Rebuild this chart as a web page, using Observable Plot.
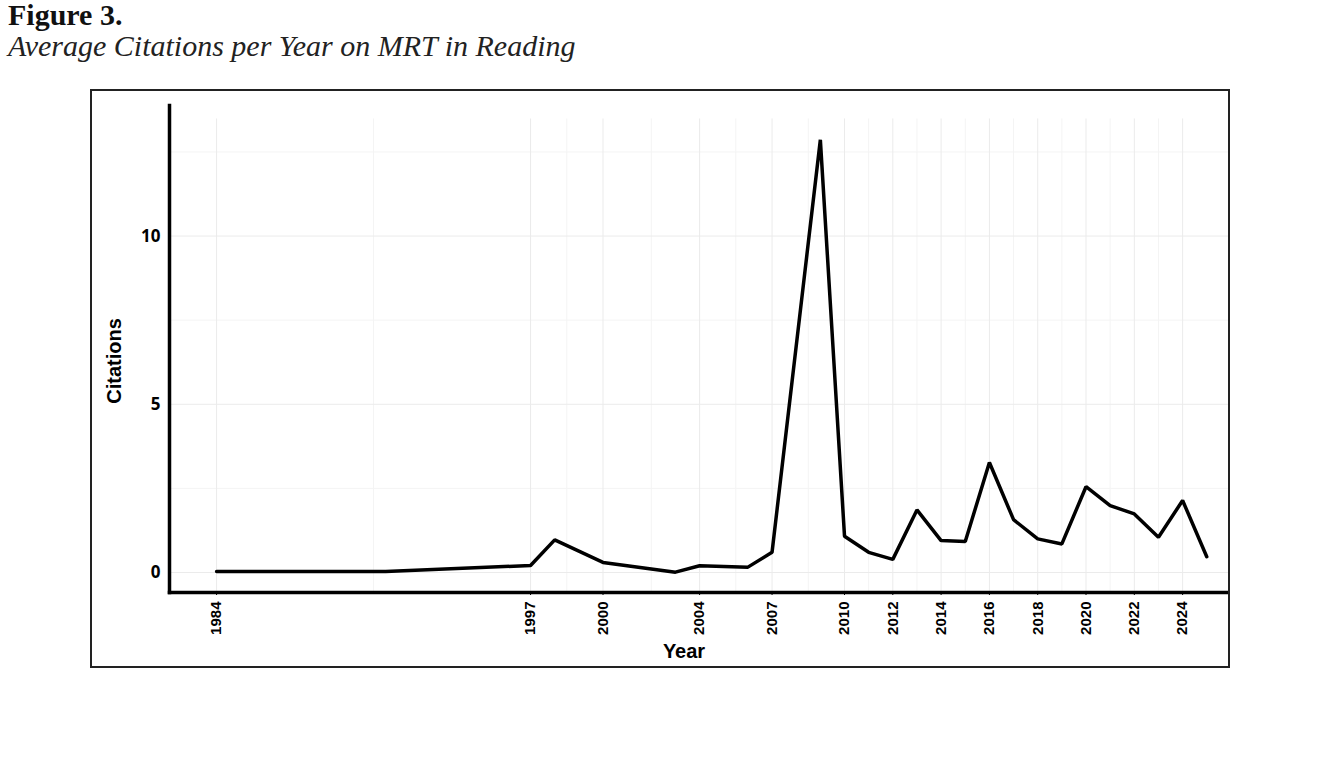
<!DOCTYPE html>
<html><head><meta charset="utf-8">
<script src="https://cdn.jsdelivr.net/npm/d3@7"></script>
<script src="https://cdn.jsdelivr.net/npm/@observablehq/plot@0.6"></script>
<style>
body{margin:0;background:#fff;width:1320px;height:758px;overflow:hidden;position:relative}
#t1{position:absolute;left:8px;top:0px;font:bold 30px "Liberation Serif",serif;color:#111;line-height:30px;white-space:nowrap}
#t2{position:absolute;left:8px;top:29px;font:italic 30px "Liberation Serif",serif;color:#222;line-height:34px;white-space:nowrap}
#box{position:absolute;left:90px;top:89px;width:1140px;height:579px;border:2px solid #222;box-sizing:border-box}
#chart{position:absolute;left:92px;top:91px}
</style></head><body>
<div id="t1">Figure 3.</div>
<div id="t2">Average Citations per Year on MRT in Reading</div>
<div id="box"></div>
<div id="chart"></div>
<script>
const years = [1984, 1991, 1997, 1998, 2000, 2003, 2004, 2006, 2007, 2009, 2010, 2011, 2012, 2013, 2014, 2015, 2016, 2017, 2018, 2019, 2020, 2021, 2022, 2023, 2024, 2025];
const citations = [0.03, 0.03, 0.21, 0.97, 0.30, 0.01, 0.20, 0.16, 0.60, 12.86, 1.08, 0.60, 0.39, 1.86, 0.95, 0.92, 3.27, 1.57, 1.00, 0.85, 2.55, 1.99, 1.74, 1.05, 2.14, 0.47];
const xTicks = [1984, 1997, 2000, 2004, 2007, 2010, 2012, 2014, 2016, 2018, 2020, 2022, 2024];
const xMinor = [1990.5, 1998.5, 2002, 2005.5, 2008.5, 2011, 2013, 2015, 2017, 2019, 2021, 2023];
const yTicks = [0, 5, 10];
const yMinor = [2.5, 7.5, 12.5];

const data = years.map((y, i) => ({year: y, value: citations[i]}));
const sans = "'Liberation Sans', Arial, sans-serif";

const chart = Plot.plot({
  width: 1136,
  height: 575,
  marginLeft: 77,
  marginRight: 0,
  marginTop: 14,
  marginBottom: 74,
  x: {domain: [1982.05, 2025.9]},
  y: {domain: [-0.594, 13.88]},
  style: {background: "transparent", fontFamily: sans, color: "#000"},
  marks: [
    Plot.gridX(xMinor, {stroke: "#f4f4f4", strokeOpacity: 1, strokeWidth: 1, y1: -0.594, y2: 13.48}),
    Plot.gridY(yMinor, {stroke: "#f4f4f4", strokeOpacity: 1, strokeWidth: 1}),
    Plot.gridX(xTicks, {stroke: "#ebebeb", strokeOpacity: 1, strokeWidth: 1, y1: -0.594, y2: 13.48}),
    Plot.gridY(yTicks, {stroke: "#ebebeb", strokeOpacity: 1, strokeWidth: 1}),
    Plot.line(data, {x: "year", y: "value", stroke: "#000", strokeWidth: 3.5, strokeLinejoin: "miter"}),
    Plot.axisX(xTicks, {tickFormat: d => String(d), tickRotate: -90, tickSize: 3, tickPadding: 6, fontSize: 15, fontWeight: "bold", fontFamily: sans, label: null, stroke: "#000"}),
    Plot.axisY(yTicks, {tickSize: 0, tickPadding: 9, fontSize: 17, fontWeight: "bold", fontFamily: "'Open Sans', sans-serif", label: null}),
    Plot.frame({anchor: "left", stroke: "#000", strokeWidth: 3.5}),
    Plot.frame({anchor: "bottom", stroke: "#000", strokeWidth: 3.5}),
    Plot.text(["Year"], {frameAnchor: "bottom", text: d => d, dx: -15, dy: 65, fontSize: 20, fontWeight: "bold", fontFamily: sans, fill: "#000"}),
    Plot.text(["Citations"], {frameAnchor: "left", text: d => d, textAnchor: "middle", rotate: -90, dx: -55, dy: 12, fontSize: 20, fontWeight: "bold", fontFamily: sans, fill: "#000"})
  ]
});
document.getElementById("chart").appendChild(chart);
</script>
</body></html>
